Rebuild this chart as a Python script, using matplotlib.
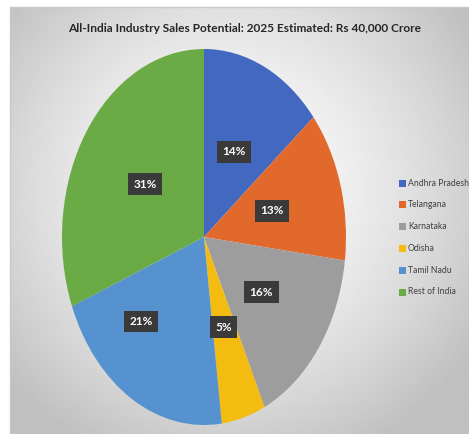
import numpy as np
import matplotlib

matplotlib.use("Agg")
import matplotlib.pyplot as plt
from matplotlib.patches import Rectangle

# data
states = ["Andhra Pradesh", "Telangana", "Karnataka", "Odisha", "Tamil Nadu", "Rest of India"]
shares = [14, 13, 16, 5, 21, 31]
colors = ["#4268C0", "#E2692C", "#9D9D9D", "#F4BC10", "#5592CF", "#6AAB45"]
title = "All-India Industry Sales Potential: 2025 Estimated: Rs 40,000 Crore"

W, H = 469, 434
fig = plt.figure(figsize=(W / 100, H / 100), dpi=100)
fig.patch.set_facecolor("white")

# chart area with radial gradient background
bg = fig.add_axes([10 / W, 0, (W - 10) / W, (H - 7) / H])
yy, xx = np.mgrid[0:200, 0:200]
cx, cy = 95, 85
r = np.sqrt(((xx - cx) / 120.0) ** 2 + ((yy - cy) / 130.0) ** 2)
shade = np.clip(0.99 - 0.22 * r ** 1.6, 0.75, 0.99)
bg.imshow(shade, cmap="gray", vmin=0, vmax=1, aspect="auto", extent=(0, 1, 0, 1), origin="upper")
bg.set_xlim(0, 1)
bg.set_ylim(0, 1)
bg.axis("off")
fig.add_artist(Rectangle((10 / W, 0), (W - 10) / W, (H - 7) / H, transform=fig.transFigure,
                         fill=False, edgecolor="#c8c8c8", lw=1))

fig.text(245 / W, 1 - 29 / H, title, ha="center", va="center", fontsize=8.6,
         fontweight="bold", family="Lato", color="#262626")

# pie (stretched to an ellipse like the source)
ax = fig.add_axes([62 / W, 9 / H, 284 / W, 376 / H])
wedges, _ = ax.pie(shares, colors=colors, startangle=90, counterclock=False,
                   wedgeprops=dict(linewidth=0))
ax.set_aspect("auto")
ax.set_xlim(-1, 1)
ax.set_ylim(-1, 1)
ax.axis("off")

label_r = [0.5, 0.5, 0.5, 0.5, 0.63, 0.5]
label_shift = [0, 0, 0, 0, -14, 0]
start = 90.0
for val, rr, sh in zip(shares, label_r, label_shift):
    mid = np.deg2rad(start - val * 3.6 / 2 + sh)
    start -= val * 3.6
    ax.text(rr * np.cos(mid), rr * np.sin(mid), f"{val}%", ha="center", va="center",
            fontsize=8.5, fontweight="bold", family="Lato", color="white",
            bbox=dict(boxstyle="square,pad=0.45", fc="#3a3a3a", ec="none"))

# legend
for i, (name, c) in enumerate(zip(states, colors)):
    y = 1 - (183 + i * 21.8) / H
    fig.add_artist(Rectangle((399 / W, y - 3.5 / H), 7 / W, 7 / H, transform=fig.transFigure,
                             fc=c, ec="none"))
    fig.text(408 / W, y, name, ha="left", va="center", fontsize=6.2, family="Lato",
             color="#404040")

fig.savefig("out.png", dpi=100)
